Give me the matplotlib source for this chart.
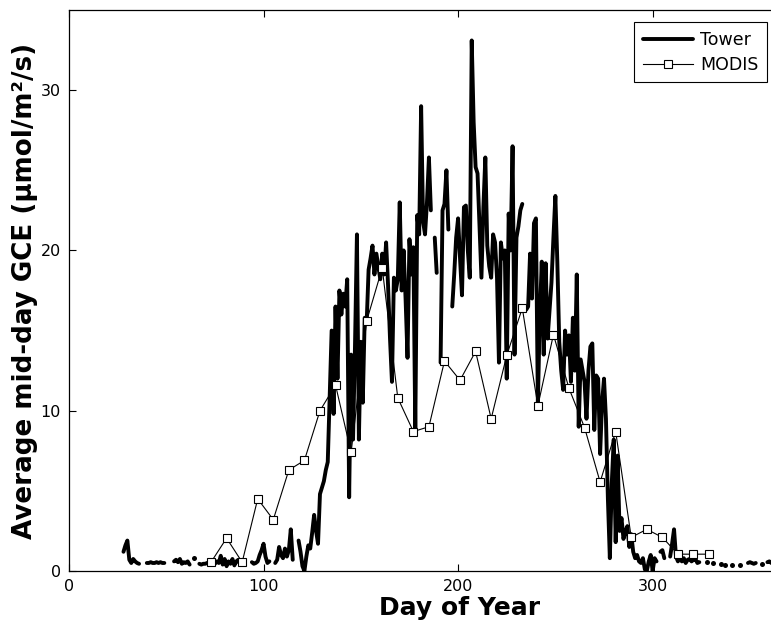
#======================================================================
#   IMPORTS:
#======================================================================

import numpy as np
from matplotlib import pyplot as plt


#======================================================================
#   GLOBALS:
#======================================================================

nan = np.nan

# tower mid-day GCE, one value per day from day 28 to day 362 (nan = no data)
tower_start = 28
tower_gce = [
    1.2, 1.6, 1.9, 0.7, 0.5, 0.75, 0.6, 0.5, 0.45, nan,          # 28-37
    nan, nan, 0.5, 0.5, 0.55, 0.5, 0.5, 0.55, 0.5, 0.55,         # 38-47
    0.5, 0.5, nan, nan, nan, nan, 0.6, 0.7, 0.55, 0.75,          # 48-57
    0.45, 0.55, 0.5, 0.6, 0.4, nan, 0.8, nan, nan, 0.45,         # 58-67
    0.4, 0.45, 0.45, 0.5, 0.55, 0.5, 0.55, 0.45, 0.6, 0.5,       # 68-77
    0.95, 0.4, 0.75, 0.3, 0.6, 0.45, 0.75, 0.35, 0.6, 0.7,       # 78-87
    0.4, 0.5, nan, nan, nan, nan, 0.55, 0.45, 0.5, 0.6,          # 88-97
    1.0, 1.3, 1.7, 0.9, 0.5, 0.6, nan, nan, 0.5, 0.7,            # 98-107
    1.5, 1.0, 0.8, 1.4, 0.9, 1.3, 2.6, 0.7, nan, nan,            # 108-117
    1.9, 1.2, 0.3, 0.0, 0.9, 1.6, 1.4, 2.4, 3.5, 2.5,            # 118-127
    1.7, 4.8, 5.2, 5.6, 6.3, 6.8, 11.0, 15.0, 9.8, 16.5,         # 128-137
    12.0, 17.5, 16.0, 17.3, 16.5, 18.2, 4.6, 13.5, 8.2, 14.0,    # 138-147
    21.0, 8.2, 14.3, 10.5, 15.8, 15.5, 18.8, 19.5, 20.3, 18.5,   # 148-157
    19.8, 19.0, 18.2, 19.8, 18.5, 20.5, 17.8, 14.5, 11.8, 18.3,  # 158-167
    17.5, 18.2, 23.0, 17.5, 20.0, 17.0, 13.3, 20.7, 18.5, 20.2,  # 168-177
    8.8, 22.2, 21.0, 29.0, 21.8, 21.0, 23.0, 25.8, 22.5, nan,    # 178-187
    20.8, 18.6, nan, 13.0, 22.5, 22.9, 25.0, 21.3, nan, 16.5,    # 188-197
    18.5, 20.8, 22.0, 19.5, 17.2, 22.7, 22.8, 20.0, 18.3, 33.1,  # 198-207
    28.0, 25.2, 24.8, 21.5, 18.3, 22.7, 25.8, 20.3, 19.0, 18.3,  # 208-217
    21.0, 20.5, 18.3, 13.0, 20.5, 19.5, 20.0, 12.0, 22.3, 20.0,  # 218-227
    26.5, 13.5, 20.8, 21.5, 22.5, 22.9, nan, 16.3, 16.5, 19.8,   # 228-237
    17.0, 21.7, 22.0, 10.5, 15.8, 19.3, 13.5, 19.2, 14.5, 16.3,  # 238-247
    18.0, 20.8, 23.4, 19.3, 14.3, 12.5, 11.3, 15.0, 13.5, 14.7,  # 248-257
    11.8, 15.8, 12.5, 18.5, 9.0, 13.2, 12.5, 11.8, 9.5, 12.5,    # 258-267
    14.0, 14.2, 8.8, 12.2, 12.0, 7.3, 10.5, 12.0, 9.5, 4.5,      # 268-277
    0.8, 5.5, 8.2, 1.8, 7.2, 2.5, 3.3, 2.0, 2.5, 2.8,            # 278-287
    1.5, 2.3, 1.2, 0.8, 1.0, 0.6, 0.5, 0.8, 0.1, 0.0,            # 288-297
    0.6, 1.0, 0.0, 0.8, 0.6, nan, 1.2, 1.3, 0.8, nan,            # 298-307
    nan, 0.9, 1.7, 2.6, 0.9, 0.6, 0.9, 0.6, 0.8, 0.5,            # 308-317
    0.7, 0.75, 0.6, 0.7, 0.75, 0.5, 0.55, nan, nan, nan,         # 318-327
    0.55, nan, nan, 0.5, nan, nan, nan, 0.45, nan, 0.4,          # 328-337
    nan, nan, nan, 0.35, nan, nan, nan, 0.4, nan, nan,           # 338-347
    nan, 0.5, 0.55, 0.5, 0.45, 0.5, nan, nan, 0.45, nan,         # 348-357
    nan, 0.55, 0.6, 0.5, 0.55,                                   # 358-362
]

# MODIS 8-day composites
modis_day = [73, 81, 89, 97, 105, 113, 121, 129, 137, 145, 153,
             161, 169, 177, 185, 193, 201, 209, 217, 225, 233, 241,
             249, 257, 265, 273, 281, 289, 297, 305, 313, 321, 329]
modis_gce = [0.55, 2.05, 0.55, 4.5, 3.2, 6.3, 6.9, 10.0, 11.6, 7.4, 15.6,
             18.9, 10.8, 8.7, 9.0, 13.1, 11.9, 13.7, 9.5, 13.45, 16.4, 10.3,
             14.75, 11.4, 8.95, 5.55, 8.7, 2.1, 2.6, 2.1, 1.05, 1.05, 1.05]

x_ticks = [0, 100, 200, 300]
y_ticks = [0, 10, 20, 30]


#======================================================================
#   FUNCTIONS:
#======================================================================

def lone_points(values):
    '''
        True where a value has no data on either side,
        so the line alone would not draw it.
    '''
    v = np.asarray(values, dtype=float)
    ok = ~np.isnan(v)
    prev_ok = np.r_[False, ok[:-1]]
    next_ok = np.r_[ok[1:], False]
    return ok & ~prev_ok & ~next_ok


#======================================================================
#   MAIN:
#======================================================================

if (__name__ == '__main__'):

    tower_day = np.arange(tower_start, tower_start + len(tower_gce))
    tower_arr = np.asarray(tower_gce, dtype=float)
    lone = lone_points(tower_arr)

    fig = plt.figure(figsize=(7.71, 6.25), dpi=100)
    ax = fig.add_axes([0.0895, 0.0864, 0.921, 0.8976])

    ax.plot(tower_day, tower_arr, color='black', lw=2.8,
            solid_capstyle='round', solid_joinstyle='round', label='Tower')
    # single days between gaps show as dots
    ax.plot(tower_day[lone], tower_arr[lone], ls='none', marker='o',
            ms=3.6, mew=0, color='black', label='_nolegend_')

    ax.plot(modis_day, modis_gce, color='black', lw=0.8, marker='s',
            ms=6.3, mfc='white', mec='black', mew=0.8, label='MODIS')

    ax.set_xlim(0, 365)
    ax.set_ylim(0, 35)
    ax.set_xticks(x_ticks)
    ax.set_yticks(y_ticks)
    ax.tick_params(direction='in', top=True, right=True, length=5,
                   labelsize=11.5, pad=6)
    for sp in ax.spines.values():
        sp.set_linewidth(0.9)

    ax.set_xlabel('Day of Year', fontsize=18, fontweight='bold')
    ax.xaxis.set_label_coords(201 / 365, -0.045)       # centred near day 200
    ax.set_ylabel('Average mid-day GCE (\u03bcmol/m\u00b2/s)', fontsize=18.8,
                  fontweight='bold', labelpad=2)

    leg = ax.legend(loc='upper right', bbox_to_anchor=(358.9, 34.25),
                    bbox_transform=ax.transData, borderaxespad=0,
                    fancybox=False, edgecolor='black', framealpha=1,
                    fontsize=12.5, handlelength=2.9, borderpad=0.5,
                    labelspacing=0.4, handletextpad=0.4)
    leg.get_frame().set_linewidth(0.8)

    plt.savefig('out.png', dpi=100)
